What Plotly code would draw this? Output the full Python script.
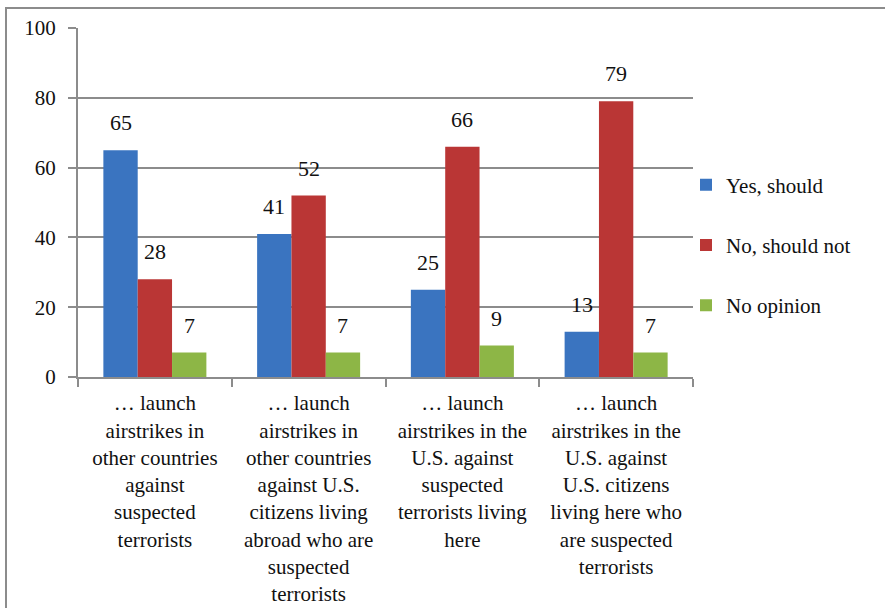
import plotly.graph_objects as go

categories = [
    "… launch<br>airstrikes in<br>other countries<br>against<br>suspected<br>terrorists",
    "… launch<br>airstrikes in<br>other countries<br>against U.S.<br>citizens living<br>abroad who are<br>suspected<br>terrorists",
    "… launch<br>airstrikes in the<br>U.S. against<br>suspected<br>terrorists living<br>here",
    "… launch<br>airstrikes in the<br>U.S. against<br>U.S. citizens<br>living here who<br>are suspected<br>terrorists",
]
series_names = ["Yes, should", "No, should not", "No opinion"]
yes_vals = [65, 41, 25, 13]
no_vals = [28, 52, 66, 79]
noop_vals = [7, 7, 9, 7]
y_ticks = [0, 20, 40, 60, 80, 100]

colors = ["#3A74C0", "#BA3635", "#8DB646"]
FONT = "Liberation Serif"
FS = 21
bargap = 0.33

x_idx = list(range(len(categories)))
all_vals = [yes_vals, no_vals, noop_vals]

fig = go.Figure()
for i, (name, vals, col) in enumerate(zip(series_names, all_vals, colors)):
    fig.add_trace(go.Bar(
        x=x_idx, y=vals, name=name, marker=dict(color=col, line=dict(width=0)),
        legendgroup=name,
    ))

# data labels as annotations above bars
bw = (1 - bargap) / 3
for i, vals in enumerate(all_vals):
    off = (i - 1) * bw
    for j, v in enumerate(vals):
        fig.add_annotation(x=j + off, y=v, text=str(v), showarrow=False,
                           yanchor="bottom", yshift=13,
                           font=dict(family=FONT, size=22, color="#111"))

# outer border
fig.add_shape(type="rect", xref="paper", yref="paper",
              x0=(6 - 78) / 615, x1=1.6, y0=-1.0, y1=1 + (28 - 8) / 349,
              line=dict(color="#8C8C8C", width=2), fillcolor="rgba(0,0,0,0)", layer="below")

fig.update_layout(
    width=885, height=608,
    margin=dict(l=78, r=192, t=28, b=231, autoexpand=False),
    paper_bgcolor="white", plot_bgcolor="white",
    barmode="group", bargap=bargap, bargroupgap=0,
    font=dict(family=FONT, size=FS, color="#111"),
    showlegend=True,
    legend=dict(x=(686 - 78) / 615, y=(377 - 245) / 349, xanchor="left", yanchor="middle",
                tracegroupgap=30, font=dict(family=FONT, size=FS, color="#111"),
                itemwidth=30, bgcolor="rgba(0,0,0,0)", traceorder="grouped"),
    xaxis=dict(
        range=[-0.5, 3.5], tickvals=x_idx, ticktext=categories, automargin=False,
        ticks="", showline=True, linecolor="#8C8C8C", linewidth=2,
        showgrid=False, zeroline=False, ticklabelstandoff=6,
        tickfont=dict(family=FONT, size=FS, color="#111"),
        minor=dict(tickvals=[-0.5, 0.5, 1.5, 2.5, 3.5], ticks="outside",
                   ticklen=8, tickcolor="#8C8C8C", tickwidth=2, showgrid=False),
    ),
    yaxis=dict(
        range=[0, 100], tickvals=y_ticks, ticks="outside", ticklen=8, automargin=False,
        tickcolor="#8C8C8C", tickwidth=2, ticklabelstandoff=8,
        showline=True, linecolor="#8C8C8C", linewidth=2,
        showgrid=True, gridcolor="#8C8C8C", gridwidth=2, zeroline=False,
        tickfont=dict(family=FONT, size=FS, color="#111"),
    ),
)

fig.write_html("out.html")
